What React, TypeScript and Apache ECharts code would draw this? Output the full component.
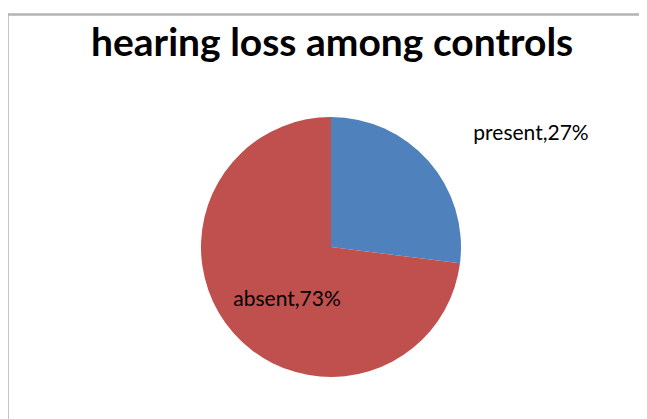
import React, { useEffect, useRef } from "react";
import * as echarts from "echarts";

const titleText = "hearing loss among controls";
const categories = ["present", "absent"];
const values = [27, 73];
const colors = ["#4F81BD", "#C0504D"];

export default function App() {
  const ref = useRef<HTMLDivElement>(null);
  useEffect(() => {
    if (!ref.current) return;
    const chart = echarts.init(ref.current, null, { renderer: "svg" });
    chart.setOption({
      animation: false,
      backgroundColor: "#ffffff",
      title: {
        text: titleText,
        left: 86,
        top: 16,
        textStyle: {
          fontFamily: "Lato",
          fontWeight: "bold",
          fontSize: 39,
          color: "#000000",
        },
      },
      graphic: [
        {
          type: "polyline",
          shape: { points: [[7.5, 430], [7.5, 14.5], [660, 14.5]] },
          style: { stroke: "#b4b4b4", lineWidth: 2.5, fill: "none" },
          silent: true,
        },
      ],
      series: [
        {
          type: "pie",
          center: [331, 247],
          radius: 130,
          startAngle: 90,
          clockwise: true,
          data: categories.map((c, i) => ({
            name: c,
            value: values[i],
            itemStyle: { color: colors[i] },
          })),
          label: {
            show: true,
            formatter: "{b},{d}%",
            fontFamily: "Lato",
            fontSize: 21,
            color: "#000000",
          },
          labelLine: { show: false },
          labelLayout: (params: any) => {
            if (params.dataIndex === 0) {
              return { x: 531, y: 131, align: "center", verticalAlign: "middle" };
            }
            return { x: 287, y: 297, align: "center", verticalAlign: "middle" };
          },
          emphasis: { disabled: true },
        },
      ],
    });
    return () => chart.dispose();
  }, []);
  return (
    <div
      ref={ref}
      style={{ width: 647, height: 419, marginLeft: -8, marginTop: -8 }}
    />
  );
}
